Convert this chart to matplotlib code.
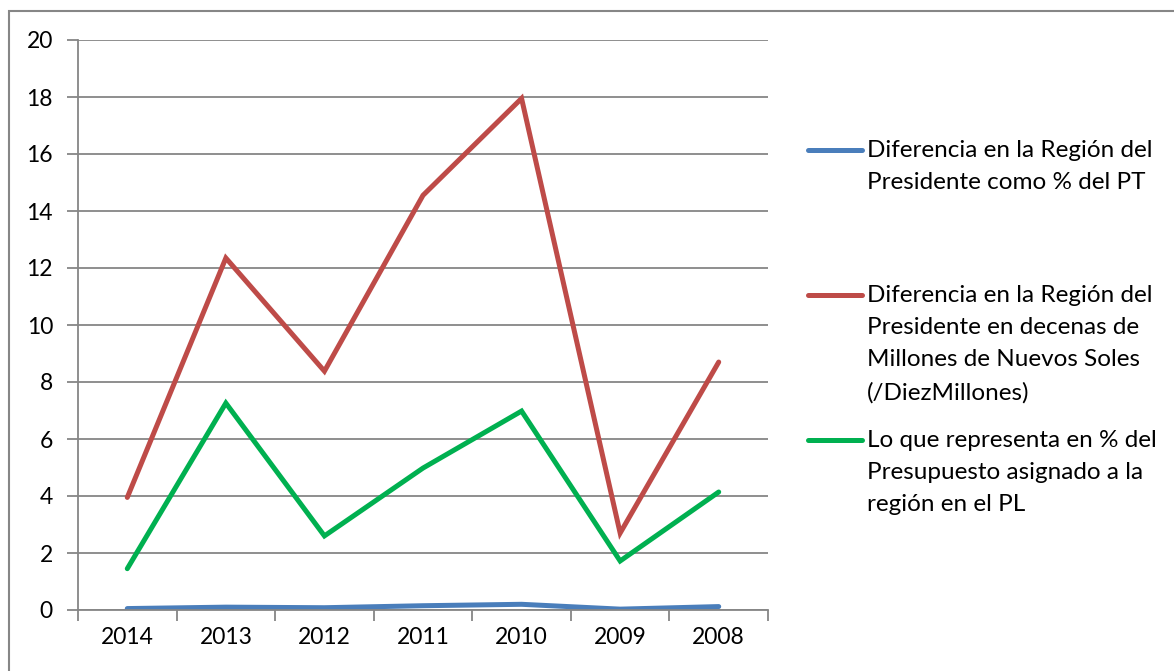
import numpy as np
import matplotlib.pyplot as plt
from matplotlib.lines import Line2D
from matplotlib.patches import Rectangle

plt.rcParams['font.family'] = ['Lato', 'DejaVu Sans']

years = ['2014', '2013', '2012', '2011', '2010', '2009', '2008']
pct_pt = [0.05, 0.10, 0.08, 0.15, 0.20, 0.03, 0.12]
decenas_millones = [3.95, 12.35, 8.38, 14.55, 17.95, 2.70, 8.70]
pct_presupuesto = [1.45, 7.26, 2.60, 4.98, 6.98, 1.72, 4.14]

labels = [
    'Diferencia en la Región del\nPresidente como % del PT',
    'Diferencia en la Región del\nPresidente en decenas de\nMillones de Nuevos Soles\n(/DiezMillones)',
    'Lo que representa en % del\nPresupuesto asignado a la\nregión en el PL',
]
colors = ['#4A7EBB', '#BE4B48', '#00B050']
grid_c = '#868686'

W, H = 1174, 671
fig = plt.figure(figsize=(W / 100, H / 100), dpi=100)

# outer chart border (Excel chart area)
fig.add_artist(Rectangle((8.5 / W, -0.1), 1.2, 1.1 - 10.5 / H, transform=fig.transFigure,
                         fill=False, edgecolor=grid_c, lw=1.5))

ax = fig.add_axes([78 / W, (H - 610) / H, (768 - 78) / W, 570 / H])
x = np.arange(len(years))
for vals, c in zip([pct_pt, decenas_millones, pct_presupuesto], colors):
    ax.plot(x, vals, color=c, lw=3.6, solid_capstyle='round', solid_joinstyle='miter')

ax.set_xlim(-0.5, len(years) - 0.5)
ax.set_ylim(0, 20)
ax.set_yticks(range(0, 21, 2))
ax.yaxis.grid(True, color=grid_c, lw=1.3)
ax.set_axisbelow(True)
ax.set_xticks(x)
ax.set_xticklabels(years)
ax.set_xticks(np.arange(-0.5, len(years)), minor=True)
ax.tick_params(axis='x', which='major', length=0, pad=12, labelsize=16.5)
ax.tick_params(axis='x', which='minor', length=8, color=grid_c, width=1.3)
ax.tick_params(axis='y', length=8, color=grid_c, width=1.3, pad=10, labelsize=16.5)
for s in ['top', 'right']:
    ax.spines[s].set_visible(False)
for s in ['left', 'bottom']:
    ax.spines[s].set_color(grid_c)
    ax.spines[s].set_linewidth(1.3)

# legend, laid out like the Excel one
line_y = [150, 295, 440]
for lab, c, ly in zip(labels, colors, line_y):
    fig.add_artist(Line2D([808 / W, 862 / W], [1 - ly / H] * 2, color=c, lw=3.6,
                          solid_capstyle='round', transform=fig.transFigure))
    fig.text(867 / W, 1 - (ly - 10) / H, lab, ha='left', va='top', fontsize=17.5,
             linespacing=1.66)

fig.savefig('out.png', dpi=100)
